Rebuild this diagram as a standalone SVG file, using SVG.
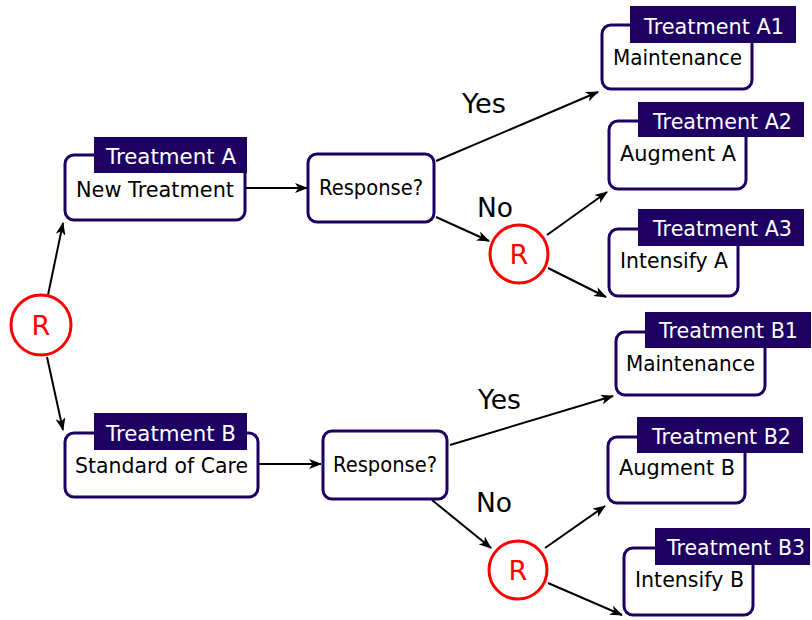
<svg xmlns="http://www.w3.org/2000/svg" width="812" height="620" viewBox="0 0 812 620">
<defs>
<marker id="arr" viewBox="0 0 13 10" refX="12" refY="5" markerWidth="13" markerHeight="10" markerUnits="userSpaceOnUse" orient="auto">
<path d="M0,0 L13,5 L0,10 L3.5,5 Z" fill="#000"/>
</marker>
</defs>
<style>
.box{fill:#fff;stroke:#1e0063;stroke-width:3}
.tag{fill:#1e0063}
.tt{fill:#fff;font-family:"DejaVu Sans","Liberation Sans",sans-serif;font-size:22px}
.bt{fill:#000;font-family:"DejaVu Sans","Liberation Sans",sans-serif;font-size:22px}
.lbl{fill:#000;font-family:"DejaVu Sans","Liberation Sans",sans-serif;font-size:27px}
.rc{fill:#fff;stroke:#ff0000;stroke-width:3}
.rt{fill:#ff0000;font-family:"DejaVu Sans","Liberation Sans",sans-serif;font-size:27px;text-anchor:middle}
.e{stroke:#000;stroke-width:2;fill:none;marker-end:url(#arr)}
</style>
<g id="connectors">
<line class="e" x1="48" y1="295" x2="63" y2="223"/>
<line class="e" x1="47" y1="357" x2="63" y2="430"/>
<line class="e" x1="245" y1="188" x2="307" y2="188"/>
<line class="e" x1="258" y1="464" x2="321" y2="464"/>
<line class="e" x1="436" y1="161" x2="598" y2="92"/>
<line class="e" x1="436" y1="217" x2="489" y2="241"/>
<line class="e" x1="547" y1="235" x2="607" y2="192"/>
<line class="e" x1="548" y1="268" x2="606" y2="297"/>
<line class="e" x1="450" y1="445" x2="613" y2="396"/>
<line class="e" x1="432" y1="500" x2="491" y2="548"/>
<line class="e" x1="545" y1="548" x2="605" y2="506"/>
<line class="e" x1="548" y1="583" x2="622" y2="615"/>
<text class="lbl" x="462" y="113" textLength="44" lengthAdjust="spacingAndGlyphs">Yes</text>
<text class="lbl" x="477" y="217" textLength="36" lengthAdjust="spacingAndGlyphs">No</text>
<text class="lbl" x="478" y="409" textLength="43" lengthAdjust="spacingAndGlyphs">Yes</text>
<text class="lbl" x="476" y="512" textLength="36" lengthAdjust="spacingAndGlyphs">No</text>
</g>
<g id="R0"><circle class="rc" cx="41" cy="325" r="30"/><text class="rt" x="41" y="335">R</text></g>
<g id="RA"><circle class="rc" cx="519" cy="254" r="29"/><text class="rt" x="519" y="264">R</text></g>
<g id="RB"><circle class="rc" cx="518" cy="570" r="29"/><text class="rt" x="518" y="580">R</text></g>
<g id="A">
<rect class="box" x="65" y="155" width="180" height="65" rx="9"/>
<rect class="tag" x="94" y="137" width="153" height="36"/>
<text class="tt" x="106" y="164" textLength="130" lengthAdjust="spacingAndGlyphs">Treatment A</text>
<text class="bt" x="76" y="197" textLength="158" lengthAdjust="spacingAndGlyphs">New Treatment</text>
</g>
<g id="B">
<rect class="box" x="65" y="433" width="193" height="64" rx="9"/>
<rect class="tag" x="94" y="413" width="153" height="37"/>
<text class="tt" x="106" y="441" textLength="130" lengthAdjust="spacingAndGlyphs">Treatment B</text>
<text class="bt" x="75" y="473" textLength="173" lengthAdjust="spacingAndGlyphs">Standard of Care</text>
</g>
<g id="RespA">
<rect class="box" x="308" y="154" width="126" height="68" rx="9"/>
<text class="bt" x="319" y="195" textLength="104" lengthAdjust="spacingAndGlyphs">Response?</text>
</g>
<g id="RespB">
<rect class="box" x="323" y="431" width="124" height="68" rx="9"/>
<text class="bt" x="333" y="472" textLength="104" lengthAdjust="spacingAndGlyphs">Response?</text>
</g>
<g id="A1">
<rect class="box" x="602" y="25" width="150" height="64" rx="9"/>
<rect class="tag" x="630" y="6" width="166" height="37"/>
<text class="tt" x="644" y="34" textLength="140" lengthAdjust="spacingAndGlyphs">Treatment A1</text>
<text class="bt" x="613" y="65" textLength="129" lengthAdjust="spacingAndGlyphs">Maintenance</text>
</g>
<g id="A2">
<rect class="box" x="609" y="121" width="137" height="68" rx="9"/>
<rect class="tag" x="638" y="102" width="166" height="35"/>
<text class="tt" x="653" y="129" textLength="139" lengthAdjust="spacingAndGlyphs">Treatment A2</text>
<text class="bt" x="620" y="161" textLength="116" lengthAdjust="spacingAndGlyphs">Augment A</text>
</g>
<g id="A3">
<rect class="box" x="609" y="229" width="129" height="67" rx="9"/>
<rect class="tag" x="638" y="209" width="166" height="37"/>
<text class="tt" x="653" y="236" textLength="139" lengthAdjust="spacingAndGlyphs">Treatment A3</text>
<text class="bt" x="620" y="268" textLength="108" lengthAdjust="spacingAndGlyphs">Intensify A</text>
</g>
<g id="B1">
<rect class="box" x="616" y="332" width="149" height="63" rx="9"/>
<rect class="tag" x="645" y="312" width="166" height="36"/>
<text class="tt" x="659" y="338" textLength="139" lengthAdjust="spacingAndGlyphs">Treatment B1</text>
<text class="bt" x="626" y="371" textLength="129" lengthAdjust="spacingAndGlyphs">Maintenance</text>
</g>
<g id="B2">
<rect class="box" x="608" y="437" width="137" height="66" rx="9"/>
<rect class="tag" x="637" y="417" width="166" height="36"/>
<text class="tt" x="652" y="444" textLength="139" lengthAdjust="spacingAndGlyphs">Treatment B2</text>
<text class="bt" x="619" y="475" textLength="116" lengthAdjust="spacingAndGlyphs">Augment B</text>
</g>
<g id="B3">
<rect class="box" x="624" y="548" width="129" height="67" rx="9"/>
<rect class="tag" x="655" y="528" width="155" height="37"/>
<text class="tt" x="667" y="555" style="font-size:20.5px" textLength="138" lengthAdjust="spacingAndGlyphs">Treatment B3</text>
<text class="bt" x="635" y="587" textLength="109" lengthAdjust="spacingAndGlyphs">Intensify B</text>
</g>
</svg>
